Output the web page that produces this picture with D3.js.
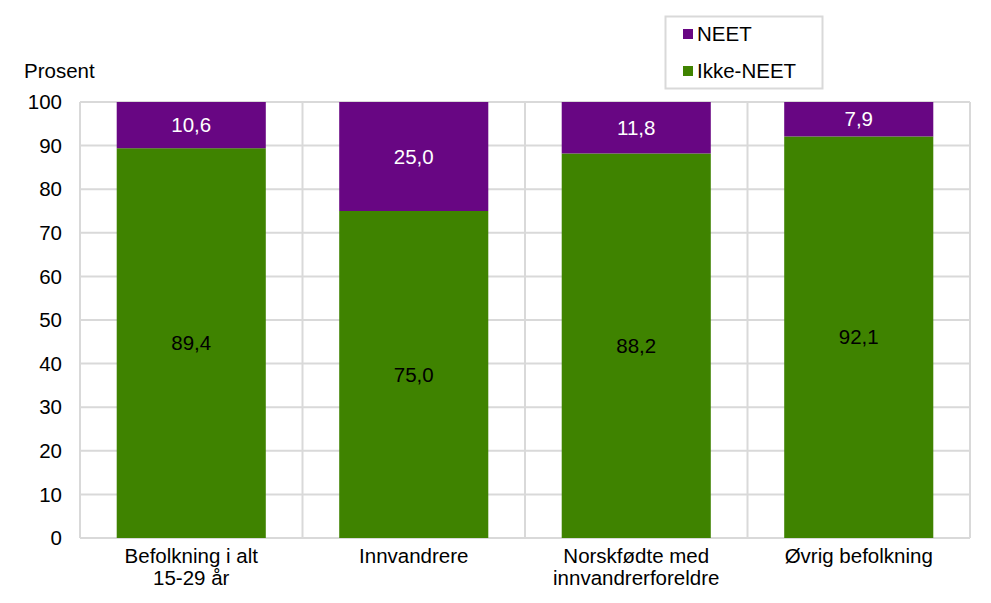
<!DOCTYPE html>
<html><head><meta charset="utf-8">
<script src="https://cdn.jsdelivr.net/npm/d3@7"></script>
<style>body{margin:0;background:#fff}svg{display:block}text{font-family:"Liberation Sans",Arial,sans-serif}</style>
</head><body>
<script>
const categories = [["Befolkning i alt","15-29 år"],["Innvandrere"],["Norskfødte med","innvandrerforeldre"],["Øvrig befolkning"]];
const ikkeNeet = [89.4, 75.0, 88.2, 92.1];
const neet = [10.6, 25.0, 11.8, 7.9];
const yTicks = [0,10,20,30,40,50,60,70,80,90,100];
const seriesNames = ["NEET","Ikke-NEET"];
const colors = {"NEET":"#680683","Ikke-NEET":"#3f8300"};

const W=991,H=603,FS=20.5;
const m={l:80,r:21,t:102,b:65};
const svg=d3.select("body").append("svg").attr("width",W).attr("height",H);
const x=d3.scaleBand().domain(d3.range(categories.length)).range([m.l,W-m.r]).paddingInner(0).paddingOuter(0);
const y=d3.scaleLinear().domain([0,100]).range([H-m.b,m.t]);
const fmt=v=>d3.format(".1f")(v).replace(".",",");
const grid="#d9d9d9";
svg.append("g").selectAll("line").data(yTicks).join("line")
 .attr("x1",m.l).attr("x2",W-m.r).attr("y1",d=>y(d)).attr("y2",d=>y(d))
 .attr("stroke",grid).attr("stroke-width",2);
const bounds=d3.range(categories.length+1).map(i=>i<categories.length?x(i):x(categories.length-1)+x.bandwidth());
svg.append("g").selectAll("line").data(bounds).join("line")
 .attr("x1",d=>d).attr("x2",d=>d).attr("y1",y(100)).attr("y2",y(0))
 .attr("stroke",grid).attr("stroke-width",2);
const bw=x.bandwidth()*0.67;
const g=svg.append("g");
categories.forEach((c,i)=>{
  const cx=x(i)+x.bandwidth()/2;
  g.append("rect").attr("x",cx-bw/2).attr("width",bw).attr("y",y(ikkeNeet[i])).attr("height",y(0)-y(ikkeNeet[i])).attr("fill",colors["Ikke-NEET"]);
  g.append("rect").attr("x",cx-bw/2).attr("width",bw).attr("y",y(ikkeNeet[i]+neet[i])).attr("height",y(ikkeNeet[i])-y(ikkeNeet[i]+neet[i])).attr("fill",colors["NEET"]);
  g.append("text").attr("x",cx).attr("y",y(ikkeNeet[i]/2)).attr("dy","0.35em").attr("text-anchor","middle").attr("font-size",FS).attr("fill","#000").text(fmt(ikkeNeet[i]));
  g.append("text").attr("x",cx).attr("y",y(ikkeNeet[i]+neet[i]/2)).attr("dy","0.35em").attr("text-anchor","middle").attr("font-size",FS).attr("fill","#fff").text(fmt(neet[i]));
  const t=g.append("text").attr("x",cx).attr("y",y(0)+25).attr("text-anchor","middle").attr("font-size",FS).attr("fill","#000");
  c.forEach((l,j)=>t.append("tspan").attr("x",cx).attr("dy",j?22:0).text(l));
});
svg.append("g").selectAll("text").data(yTicks).join("text")
 .attr("x",62).attr("y",d=>y(d)).attr("dy","0.35em").attr("text-anchor","end").attr("font-size",FS).attr("fill","#000").text(d=>d);
svg.append("text").attr("x",24).attr("y",78).attr("font-size",FS).attr("fill","#000").text("Prosent");
const lg=svg.append("g");
lg.append("rect").attr("x",665.5).attr("y",16.5).attr("width",157).attr("height",72).attr("fill","#fff").attr("stroke",grid).attr("stroke-width",2);
seriesNames.forEach((s,i)=>{
  const yy=34+i*37;
  lg.append("rect").attr("x",683).attr("y",yy-5).attr("width",10).attr("height",10).attr("fill",colors[s]);
  lg.append("text").attr("x",697).attr("y",yy).attr("dy","0.35em").attr("font-size",FS).attr("fill","#000").text(s);
});
</script>
</body></html>
